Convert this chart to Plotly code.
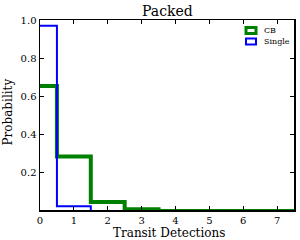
import plotly.graph_objects as go

edges = [-0.5, 0.5, 1.5, 2.5, 3.5, 4.5, 5.5, 6.5, 7.5]
cb_prob = [0.655, 0.285, 0.047, 0.009, 0.0, 0.0, 0.0, 0.0]
single_prob = [0.97, 0.025, 0.0, 0.0, 0.0, 0.0, 0.0, 0.0]
series_names = ["CB", "Single"]
series_colors = ["#008000", "#0000ff"]

xticks = [0, 1, 2, 3, 4, 5, 6, 7]
yticks = [0.2, 0.4, 0.6, 0.8, 1.0]

FONT = "DejaVu Serif"
L, R, T, B = 40, 6, 20, 30
W, H = 300, 240
PW, PH = W - L - R, H - T - B

def px(x):
    return (x - L) / PW

def py(y):
    return (H - B - y) / PH

fig = go.Figure()
fig.add_trace(go.Scatter(x=edges, y=cb_prob + [0.0], mode="lines", line_shape="hv",
                         line=dict(color=series_colors[0], width=4), showlegend=False,
                         hoverinfo="skip"))
fig.add_trace(go.Scatter(x=edges, y=single_prob + [0.0], mode="lines", line_shape="hv",
                         line=dict(color=series_colors[1], width=2), showlegend=False,
                         hoverinfo="skip"))

axis_common = dict(showgrid=False, zeroline=False, showline=True, linecolor="black",
                   linewidth=1.5, mirror="ticks", ticks="inside", ticklen=4,
                   tickcolor="black", automargin=False,
                   tickfont=dict(family=FONT, size=10, color="black"))

shapes = []
annotations = []
# manual legend (patch-style boxes)
for i, (name, col) in enumerate(zip(series_names, series_colors)):
    yc = 30.5 + 11 * i
    lw = 3 if i == 0 else 2
    shapes.append(dict(type="rect", xref="paper", yref="paper",
                       x0=px(246), x1=px(256), y0=py(yc + 3), y1=py(yc - 3),
                       line=dict(color=col, width=lw), fillcolor="rgba(0,0,0,0)"))
    annotations.append(dict(text=name, xref="paper", yref="paper", x=px(262), y=py(yc),
                            xanchor="left", yanchor="middle", showarrow=False,
                            font=dict(family=FONT, size=8, color="black")))

annotations.append(dict(text="Packed", xref="paper", yref="paper", x=0.5, y=py(11),
                        xanchor="center", yanchor="middle", showarrow=False,
                        font=dict(family=FONT, size=14, color="black")))
annotations.append(dict(text="Transit Detections", xref="paper", yref="paper", x=px(168.5),
                        y=py(232.5), xanchor="center", yanchor="middle", showarrow=False,
                        font=dict(family=FONT, size=12, color="black")))
annotations.append(dict(text="Probability", xref="paper", yref="paper", x=px(8), y=py(112.5),
                        xanchor="center", yanchor="middle", showarrow=False, textangle=-90,
                        font=dict(family=FONT, size=12, color="black")))

fig.update_layout(
    width=W, height=H,
    margin=dict(l=L, r=R, t=T, b=B, autoexpand=False),
    paper_bgcolor="white", plot_bgcolor="white",
    showlegend=False,
    xaxis=dict(range=[0, 7.5], tickvals=xticks, ticktext=[str(t) for t in xticks],
               **axis_common),
    yaxis=dict(range=[0.005, 1.0], tickvals=yticks, ticktext=[f"{t:.1f}" for t in yticks],
               **axis_common),
    shapes=shapes,
    annotations=annotations,
)

fig.write_html("out.html", config={"displayModeBar": False, "staticPlot": True},
               post_script="document.body.style.margin='0';document.body.style.padding='0';"
                           "document.body.style.overflow='hidden';")
